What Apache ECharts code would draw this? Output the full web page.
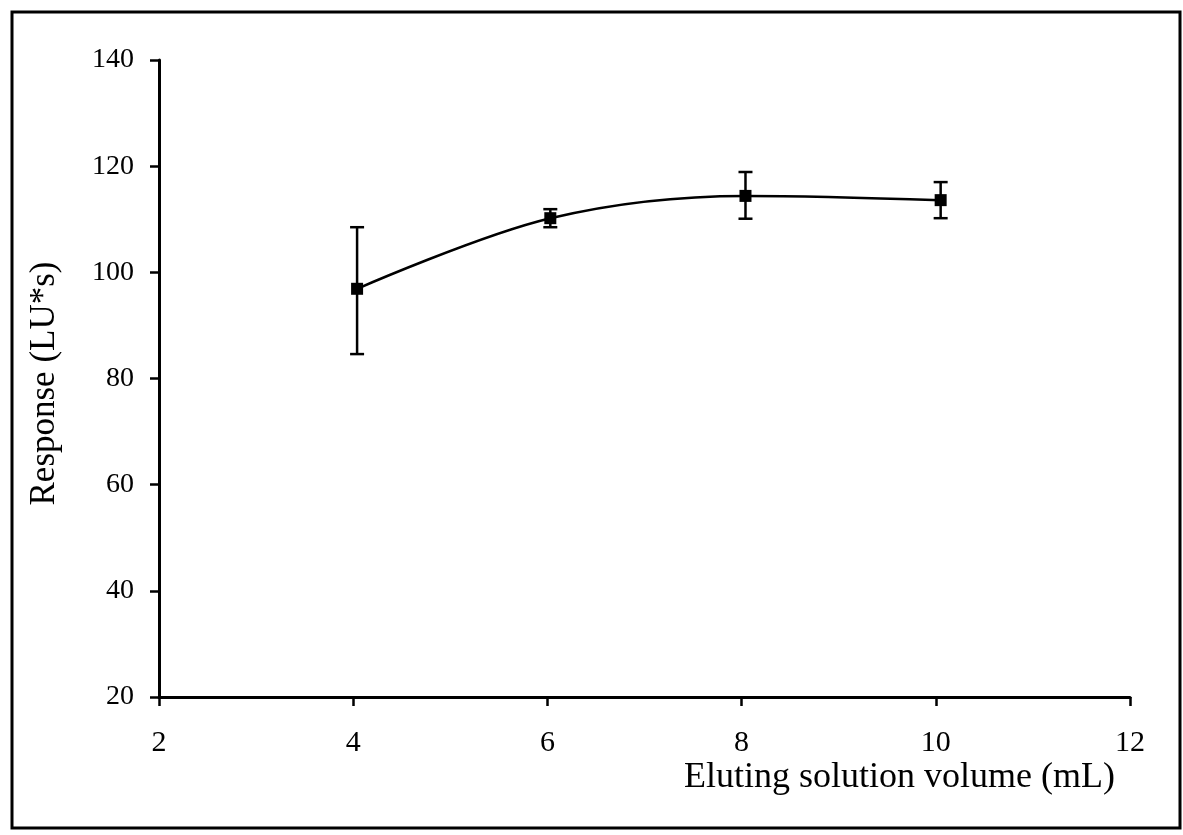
<!DOCTYPE html>
<html>
<head>
<meta charset="utf-8">
<script src="https://cdn.jsdelivr.net/npm/echarts@6/dist/echarts.min.js"></script>
<style>
  html, body { margin: 0; padding: 0; background: #fff; }
  #chart { width: 1183px; height: 835px; }
</style>
</head>
<body>
<div id="chart"></div>
<script>
// Eluting solution volume (mL) and detector response (LU*s) with error bars
const volumes   = [4.04, 6.03, 8.04, 10.05];
const responses = [96.9, 110.2, 114.4, 113.6];
const errLow    = [84.6, 108.5, 110.1, 110.2];
const errHigh   = [108.5, 111.9, 118.9, 117.0];
const xTicks    = [2, 4, 6, 8, 10, 12];
const yTicks    = [20, 40, 60, 80, 100, 120, 140];

const FONT = '"Liberation Serif", "Times New Roman", serif';

const chart = echarts.init(document.getElementById('chart'), null, { renderer: 'canvas' });

const points = volumes.map((v, i) => [v, responses[i]]);
const bars = volumes.map((v, i) => [v, errLow[i], errHigh[i]]);

chart.setOption({
  animation: false,
  backgroundColor: '#fff',
  grid: { left: 159, right: 53, top: 60, bottom: 138, containLabel: false },
  xAxis: {
    type: 'value',
    min: xTicks[0],
    max: xTicks[xTicks.length - 1],
    interval: xTicks[1] - xTicks[0],
    axisLine: { onZero: false, lineStyle: { color: '#000', width: 3 } },
    axisTick: { show: true, inside: false, length: 9, lineStyle: { color: '#000', width: 2.5 } },
    axisLabel: { color: '#000', fontFamily: FONT, fontSize: 30, margin: 31 },
    splitLine: { show: false }
  },
  yAxis: {
    type: 'value',
    min: yTicks[0],
    max: yTicks[yTicks.length - 1],
    interval: yTicks[1] - yTicks[0],
    name: 'Response (LU*s)',
    nameLocation: 'middle',
    nameRotate: 90,
    nameGap: 97,
    nameTextStyle: { color: '#000', fontFamily: FONT, fontSize: 35, padding: [0, 10, 0, 0] },
    axisLine: { onZero: false, lineStyle: { color: '#000', width: 3 } },
    axisTick: { show: true, inside: false, length: 9, lineStyle: { color: '#000', width: 2.5 } },
    axisLabel: { color: '#000', fontFamily: FONT, fontSize: 28, margin: 25 },
    splitLine: { show: false }
  },
  graphic: [
    {
      type: 'rect',
      shape: { x: 12, y: 12, width: 1168, height: 816 },
      style: { fill: 'none', stroke: '#000', lineWidth: 3 },
      silent: true
    },
    {
      type: 'text',
      right: 68,
      top: 760,
      style: {
        text: 'Eluting solution volume (mL)',
        fill: '#000',
        font: '36px ' + FONT
      }
    }
  ],
  series: [
    {
      type: 'line',
      data: points,
      smooth: 0.35,
      symbol: 'rect',
      symbolSize: 12,
      itemStyle: { color: '#000' },
      lineStyle: { color: '#000', width: 2.5 },
      z: 3
    },
    {
      type: 'custom',
      data: bars,
      renderItem: function (params, api) {
        const x = api.value(0);
        const lo = api.coord([x, api.value(1)]);
        const hi = api.coord([x, api.value(2)]);
        const half = 7;
        const style = { stroke: '#000', lineWidth: 2.5 };
        return {
          type: 'group',
          children: [
            { type: 'line', shape: { x1: lo[0], y1: lo[1], x2: hi[0], y2: hi[1] }, style: style },
            { type: 'line', shape: { x1: lo[0] - half, y1: lo[1], x2: lo[0] + half, y2: lo[1] }, style: style },
            { type: 'line', shape: { x1: hi[0] - half, y1: hi[1], x2: hi[0] + half, y2: hi[1] }, style: style }
          ]
        };
      },
      z: 2
    }
  ]
});
</script>
</body>
</html>
